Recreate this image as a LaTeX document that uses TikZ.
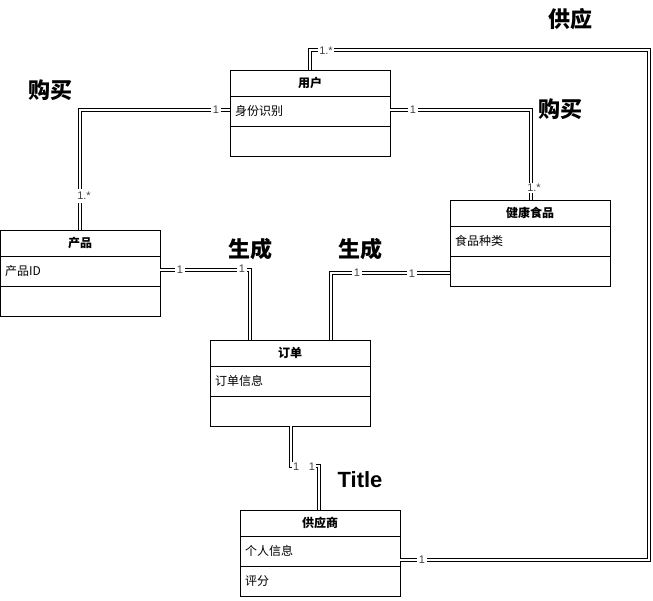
\documentclass[tikz,border=0pt]{standalone}
\usepackage{fontspec}
\setmainfont{Liberation Sans}
\newfontfamily\cjk{Noto Sans CJK SC}
\usetikzlibrary{calc}

\definecolor{multgray}{HTML}{444444}

% one UML class: name, left x, top y, header, first row, second row
\newcommand\umlclass[6]{%
  \node[classbox] (#1) at (#2+80,#3+43) {};
  \node[headtext] (#1-h) at (#2+80,#3+13) {#4};
  \draw[divider] (#2,#3+26) -- (#2+160,#3+26);
  \draw[divider] (#2,#3+56) -- (#2+160,#3+56);
  \node[rowtext] (#1-a) at (#2+5,#3+41) {#5};
  \node[rowtext] (#1-b) at (#2+5,#3+71) {#6};
}

\begin{document}
\begin{tikzpicture}[x=1pt,y=-1pt,
  classbox/.style={draw=black, line width=1pt, fill=white, minimum width=160pt,
    minimum height=86pt, inner sep=0pt, outer sep=0pt},
  divider/.style={draw=black, line width=1pt},
  headtext/.style={font=\cjk\bfseries\fontsize{12pt}{14pt}\selectfont, inner sep=0pt},
  rowtext/.style={font=\cjk\fontsize{12pt}{14pt}\selectfont, anchor=west, inner sep=0pt},
  conn/.style={draw=black, double=white, double distance=2pt, line width=1pt},
  mult/.style={font=\fontsize{11pt}{13pt}\selectfont, text=multgray, fill=white,
    inner xsep=1.5pt, inner ysep=1pt},
  relname/.style={font=\cjk\bfseries\fontsize{22pt}{26pt}\selectfont, inner sep=0pt},
]
\useasboundingbox (0,0) rectangle (653,600);

% classes
\umlclass{user}{230}{70}{用户}{身份识别}{}
\umlclass{prod}{0}{230}{产品}{产品ID}{}
\umlclass{food}{450}{200}{健康食品}{食品种类}{}
\umlclass{order}{210}{340}{订单}{订单信息}{}
\umlclass{supp}{240}{510}{供应商}{个人信息}{评分}

% associations (double lines)
\draw[conn] (user.west |- 0,110) -| (prod.north);
\draw[conn] (user.east |- 0,110) -| (food.north -| 531,0);
\draw[conn] (user.north) -- (user.north |- 0,50) -- (649,50) -- (649,560)
  -- (supp.east |- 0,560);
\draw[conn] (prod.east |- 0,269.5) -| (order.north -| 250,0);
\draw[conn] (food.west |- 0,273) -| (order.north -| 331,0);
\draw[conn] (order.south -| 290.5,0) |- (319,466) -- (supp.north -| 319,0);

% multiplicities
\node[mult] (m1) at (216,110) {1};
\node[mult, inner ysep=3pt] (m2) at (84,196) {1.*};
\node[mult] (m3) at (413,110) {1};
\node[mult] (m4) at (534,188) {1.*};
\node[mult] (m5) at (326,51) {1.*};
\node[mult] (m6) at (422,560) {1};
\node[mult] (m7) at (180,269.5) {1};
\node[mult] (m8) at (242,269) {1};
\node[mult] (m9) at (357,273) {1};
\node[mult] (m10) at (412,273.5) {1};
\node[mult, text width=12pt, align=left, inner xsep=1pt] (m11) at (299,467) {1};
\node[mult, text width=8pt, align=right, inner xsep=1pt] (m12) at (311,467) {1};

% relation names
\node[relname] (r1) at (50,90) {购买};
\node[relname] (r2) at (560,109) {购买};
\node[relname] (r3) at (570,19) {供应};
\node[relname] (r4) at (250,249.5) {生成};
\node[relname] (r5) at (360,249.5) {生成};
\node[font=\bfseries\fontsize{22pt}{26pt}\selectfont, inner sep=0pt] (r6) at (360,480) {Title};
\end{tikzpicture}
\end{document}
